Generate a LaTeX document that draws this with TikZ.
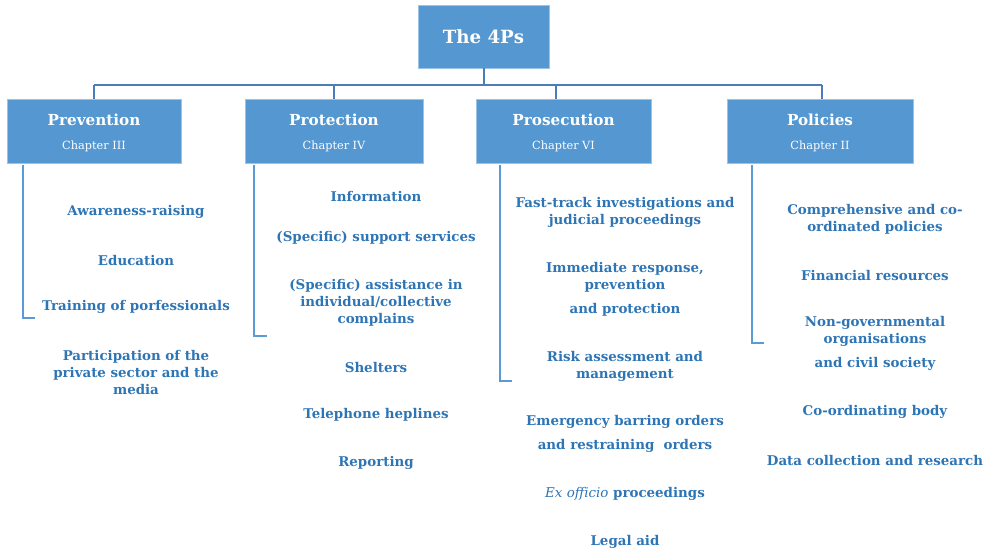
\documentclass[tikz,border=0pt]{standalone}
\usepackage{fontspec}
\setmainfont{DejaVu Serif}
\usetikzlibrary{calc}
\definecolor{boxblue}{HTML}{5497D1}
\definecolor{boxedge}{HTML}{9CC2E5}
\definecolor{busline}{HTML}{4A7EBB}
\definecolor{brackline}{HTML}{5B9BD5}
\definecolor{itemblue}{HTML}{2E75B6}
\begin{document}
\begin{tikzpicture}[x=1pt,y=-1pt,
  item/.style={text=itemblue, font=\bfseries\fontsize{13.4}{17}\selectfont, align=center, inner sep=0pt},
  headbox/.style={fill=boxblue, draw=boxedge, line width=0.6pt, text=white, align=center,
    minimum height=64, inner sep=0pt},
  bus/.style={draw=busline, line width=1.6pt},
  bracket/.style={draw=brackline, line width=1.4pt}]
\useasboundingbox (0,0) rectangle (988,555);

% top box
\node[headbox, minimum width=131, minimum height=63, font=\bfseries\fontsize{18.2}{24}\selectfont]
  (top) at (483.5,36.5) {The 4Ps};

% the four header boxes: title over chapter number
\newcommand{\hdr}[2]{{\bfseries\fontsize{15.2}{24}\selectfont\rule{0pt}{15.5pt}#1}\\{\fontsize{11.3}{24}\selectfont #2}}
\tikzset{hdrfont/.style={font=\fontsize{11.3}{24}\selectfont}}
\node[headbox, hdrfont, minimum width=174] (prev) at (94,131)    {\hdr{Prevention}{Chapter III}};
\node[headbox, hdrfont, minimum width=178] (prot) at (334,131)   {\hdr{Protection}{Chapter IV}};
\node[headbox, hdrfont, minimum width=175] (pros) at (563.5,131) {\hdr{Prosecution}{Chapter VI}};
\node[headbox, hdrfont, minimum width=186] (poli) at (820,131)   {\hdr{Policies}{Chapter II}};

% tree connectors
\coordinate (busmid) at (484,85);
\coordinate (busl) at (94,85);
\coordinate (busr) at (822,85);
\coordinate (bus3) at (556,85);
\draw[bus] (top.south -| busmid) -- (busmid);
\draw[bus] (busl) -- (busr);
\draw[bus] (busl) -- (prev.north);
\draw[bus] (334,85) -- (prot.north);
\draw[bus] (bus3) -- (bus3 |- pros.north);
\draw[bus] (busr) -- (busr |- poli.north);

% brackets under the headers
\coordinate (prevend) at (35,318);
\coordinate (protend) at (267,336);
\coordinate (prosend) at (512,381);
\coordinate (poliend) at (764,343);
\draw[bracket] (23,165) |- (prevend);
\draw[bracket] (254,165) |- (protend);
\draw[bracket] (500,165) |- (prosend);
\draw[bracket] (752,165) |- (poliend);

% Prevention
\node[item] (a1) at (136,212) {Awareness-raising};
\node[item] (a2) at (136,260) {Education};
\node[item] (a3) at (136,307) {Training of porfessionals};
\node[item] (a4) at (136,372.5) {Participation of the\\private sector and the\\media};

% Protection
\node[item] (b1) at (376,196) {Information};
\node[item] (b2) at (376,238) {(Specific) support services};
\node[item] (b3) at (376,303) {(Specific) assistance in\\individual/collective\\complains};
\node[item] (b4) at (376,367) {Shelters};
\node[item] (b5) at (376,415) {Telephone heplines};
\node[item] (b6) at (376,463) {Reporting};

% Prosecution
\node[item] (c1) at (625,212.5) {Fast-track investigations and\\judicial proceedings};
\node[item] (c2) at (625,289.5) {Immediate response,\\prevention\\[7pt]and protection};
\node[item] (c3) at (625,366.5) {Risk assessment and\\management};
\node[item] (c4) at (625,434) {Emergency barring orders\\[7pt]and restraining~ orders};
\node[item] (c5) at (625,494) {{\mdseries\itshape Ex officio} proceedings};
\node[item] (c6) at (625,542) {Legal aid};

% Policies
\node[item] (d1) at (875,219.5) {Comprehensive and co-\\ordinated policies};
\node[item] (d2) at (875,275) {Financial resources};
\node[item] (d3) at (875,343.5) {Non-governmental\\organisations\\[7pt]and civil society};
\node[item] (d4) at (875,412) {Co-ordinating body};
\node[item] (d5) at (875,460) {Data collection and research};
\end{tikzpicture}
\end{document}
